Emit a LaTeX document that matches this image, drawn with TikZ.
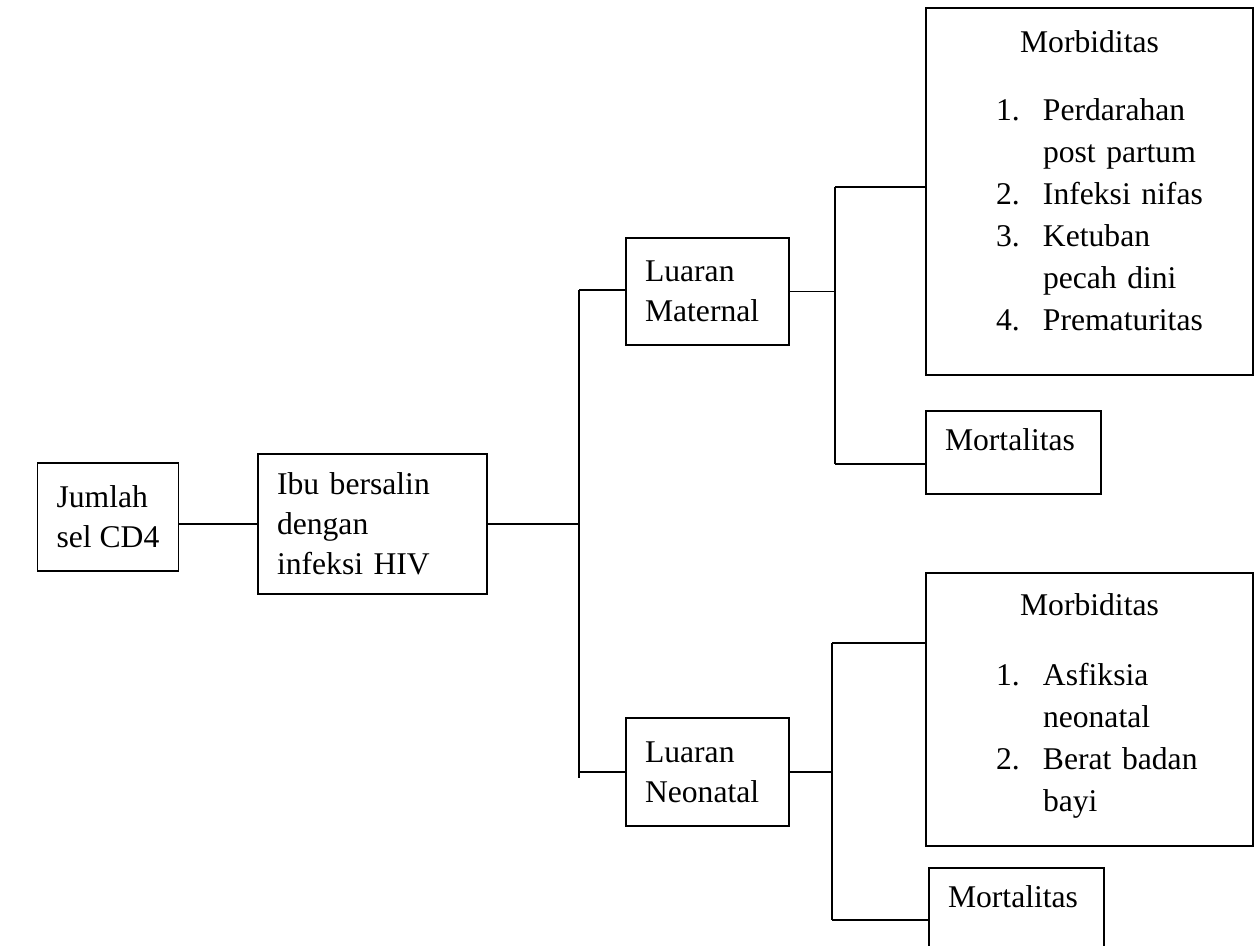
\documentclass[tikz,border=0pt]{standalone}
\usepackage{fontspec}
\setmainfont{Liberation Serif}
\newcommand{\morbnum}[2]{\hspace*{1.02cm}\makebox[0.94cm][l]{#1}#2}
\newcommand{\morbcont}[1]{\hspace*{1.96cm}#1}
\begin{document}
\begin{tikzpicture}[x=0.02cm, y=-0.02cm,
     block/.style = {draw, rectangle, line width=1pt, inner xsep=0.38cm, align=left,
      font=\fontsize{18}{22.8}\selectfont},
     morb/.style = {block, text width=5.78cm, inner ysep=0pt,
      font=\fontsize{18}{23.9}\selectfont},
     mort/.style = {block, text width=2.74cm, text height=0.44cm, text depth=0.52cm, inner ysep=0.35cm},
     line/.style = {draw, line width=1pt}
    ]
    \useasboundingbox (0,0) rectangle (1259,946);

    \node [block, minimum width=2.8cm, minimum height=2.16cm] (jumlah) at (108,517) {Jumlah\\sel CD4};
    \node [block, text width=3.82cm, minimum height=2.8cm] (ibu) at (372.5,524) {Ibu bersalin\\dengan\\infeksi HIV};
    \node [block, text width=2.5cm, minimum height=2.14cm] (maternal) at (707.5,291.5) {Luaran\\Maternal};
    \node [block, text width=2.5cm, minimum height=2.16cm, below of=maternal, node distance=9.61cm] (neonatal) {Luaran\\Neonatal};
    \node [morb, text height=0.89cm, text depth=6.45cm] (morbm) at (1089.5,191.5)
      {\makebox[5.78cm]{Morbiditas}\\[0.52cm]
       \morbnum{1.}{Perdarahan}\\
       \morbcont{post partum}\\
       \morbnum{2.}{Infeksi nifas}\\
       \morbnum{3.}{Ketuban}\\
       \morbcont{pecah dini}\\
       \morbnum{4.}{Prematuritas}};
    \node [mort] (mortm) at (1013.5,452.5) {Mortalitas};
    \node [morb, text height=0.85cm, text depth=4.61cm] (morbn) at (1089.5,709.5)
      {\makebox[5.78cm]{Morbiditas}\\[0.56cm]
       \morbnum{1.}{Asfiksia}\\
       \morbcont{neonatal}\\
       \morbnum{2.}{Berat badan}\\
       \morbcont{bayi}};
    \node [mort] (mortn) at (1016.5,909.5) {Mortalitas};

    \coordinate (trunktop) at (579,290);
    \coordinate (trunkbot) at (579,778);
    \coordinate (mtop) at (835,187);
    \coordinate (mbot) at (835,464);
    \coordinate (ntop) at (832,643);
    \coordinate (nbot) at (832,920);

    \draw[line] (ibu.west) -- (ibu.west -| jumlah.east);
    \draw[line] (ibu.east) -- (ibu.east -| trunktop);
    \draw[line] (trunktop) -- (trunkbot);
    \draw[line] (trunktop) -- (trunktop -| maternal.west);
    \draw[line] (neonatal.west) -- (neonatal.west -| trunkbot);
    \draw[line] (maternal.east) -- (maternal.east -| mtop);
    \draw[line] (mtop) -- (mbot);
    \draw[line] (mtop) -- (mtop -| morbm.west);
    \draw[line] (mbot) -- (mbot -| mortm.west);
    \draw[line] (neonatal.east) -- (neonatal.east -| ntop);
    \draw[line] (ntop) -- (nbot);
    \draw[line] (ntop) -- (ntop -| morbn.west);
    \draw[line] (nbot) -- (nbot -| mortn.west);

\end{tikzpicture}
\end{document}
